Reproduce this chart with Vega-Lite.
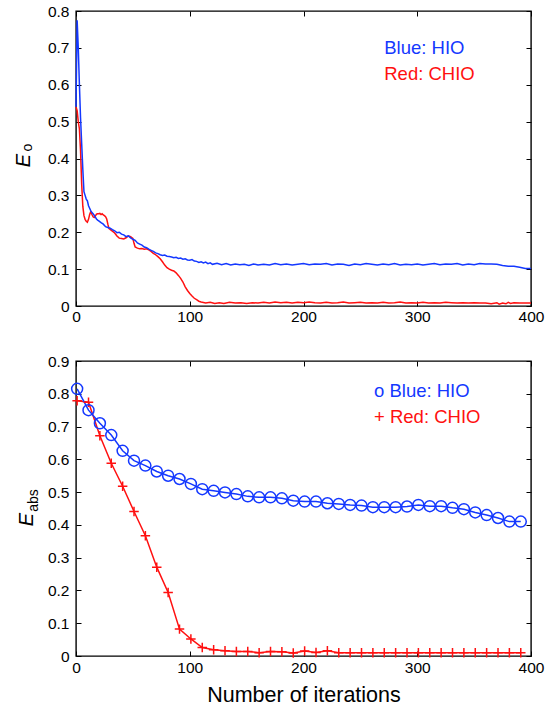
{
  "$schema": "https://vega.github.io/schema/vega-lite/v6.json",
  "padding": {"left": 12, "top": 3, "right": 5, "bottom": 2},
  "background": "white",
  "config": {
    "font": "Liberation Sans",
    "view": {"stroke": "black", "strokeWidth": 1.4},
    "axis": {
      "grid": false, "domain": false, "tickColor": "black", "tickSize": -5, "tickWidth": 1, "labelFlush": false,
      "labelColor": "black", "labelFontSize": 15.5, "labelFont": "Liberation Sans",
      "titleColor": "black", "titleFontWeight": "normal", "titleFont": "Liberation Sans"
    }
  },
  "datasets": {
    "top": [
      {"s":"CHIO","i":0,"e":0.54},{"s":"CHIO","i":1,"e":0.53},{"s":"CHIO","i":2,"e":0.50},{"s":"CHIO","i":3,"e":0.48},{"s":"CHIO","i":4,"e":0.42},{"s":"CHIO","i":5,"e":0.33},{"s":"CHIO","i":6,"e":0.27},{"s":"CHIO","i":7,"e":0.245},{"s":"CHIO","i":8,"e":0.235},{"s":"CHIO","i":9,"e":0.23},{"s":"CHIO","i":10,"e":0.227},{"s":"CHIO","i":11,"e":0.235},{"s":"CHIO","i":12,"e":0.248},{"s":"CHIO","i":13,"e":0.256},{"s":"CHIO","i":14,"e":0.248},{"s":"CHIO","i":15,"e":0.242},{"s":"CHIO","i":16,"e":0.24},{"s":"CHIO","i":17,"e":0.244},{"s":"CHIO","i":18,"e":0.249},{"s":"CHIO","i":19,"e":0.25},{"s":"CHIO","i":20,"e":0.25},{"s":"CHIO","i":21,"e":0.251},{"s":"CHIO","i":22,"e":0.248},{"s":"CHIO","i":23,"e":0.25},{"s":"CHIO","i":24,"e":0.247},{"s":"CHIO","i":25,"e":0.245},{"s":"CHIO","i":26,"e":0.242},{"s":"CHIO","i":27,"e":0.236},{"s":"CHIO","i":28,"e":0.222},{"s":"CHIO","i":29,"e":0.21},{"s":"CHIO","i":30,"e":0.208},{"s":"CHIO","i":32,"e":0.203},{"s":"CHIO","i":34,"e":0.198},{"s":"CHIO","i":36,"e":0.19},{"s":"CHIO","i":38,"e":0.184},{"s":"CHIO","i":40,"e":0.183},{"s":"CHIO","i":42,"e":0.182},{"s":"CHIO","i":44,"e":0.185},{"s":"CHIO","i":46,"e":0.19},{"s":"CHIO","i":48,"e":0.188},{"s":"CHIO","i":50,"e":0.183},{"s":"CHIO","i":51,"e":0.17},{"s":"CHIO","i":52,"e":0.16},{"s":"CHIO","i":54,"e":0.157},{"s":"CHIO","i":56,"e":0.155},{"s":"CHIO","i":58,"e":0.156},{"s":"CHIO","i":60,"e":0.154},{"s":"CHIO","i":62,"e":0.155},{"s":"CHIO","i":64,"e":0.152},{"s":"CHIO","i":66,"e":0.148},{"s":"CHIO","i":68,"e":0.143},{"s":"CHIO","i":70,"e":0.139},{"s":"CHIO","i":72,"e":0.134},{"s":"CHIO","i":74,"e":0.128},{"s":"CHIO","i":76,"e":0.12},{"s":"CHIO","i":78,"e":0.111},{"s":"CHIO","i":80,"e":0.104},{"s":"CHIO","i":82,"e":0.1},{"s":"CHIO","i":84,"e":0.097},{"s":"CHIO","i":86,"e":0.095},{"s":"CHIO","i":88,"e":0.09},{"s":"CHIO","i":90,"e":0.083},{"s":"CHIO","i":92,"e":0.075},{"s":"CHIO","i":94,"e":0.065},{"s":"CHIO","i":96,"e":0.052},{"s":"CHIO","i":98,"e":0.042},{"s":"CHIO","i":100,"e":0.034},{"s":"CHIO","i":102,"e":0.027},{"s":"CHIO","i":104,"e":0.021},{"s":"CHIO","i":106,"e":0.017},{"s":"CHIO","i":108,"e":0.013},{"s":"CHIO","i":110,"e":0.011},{"s":"CHIO","i":114,"e":0.008},{"s":"CHIO","i":118,"e":0.01},{"s":"CHIO","i":122,"e":0.007},{"s":"CHIO","i":126,"e":0.009},{"s":"CHIO","i":130,"e":0.007},{"s":"CHIO","i":135,"e":0.01},{"s":"CHIO","i":140,"e":0.008},{"s":"CHIO","i":145,"e":0.009},{"s":"CHIO","i":150,"e":0.007},{"s":"CHIO","i":155,"e":0.009},{"s":"CHIO","i":160,"e":0.008},{"s":"CHIO","i":165,"e":0.01},{"s":"CHIO","i":170,"e":0.008},{"s":"CHIO","i":175,"e":0.011},{"s":"CHIO","i":180,"e":0.009},{"s":"CHIO","i":185,"e":0.01},{"s":"CHIO","i":190,"e":0.008},{"s":"CHIO","i":195,"e":0.01},{"s":"CHIO","i":200,"e":0.009},{"s":"CHIO","i":205,"e":0.011},{"s":"CHIO","i":210,"e":0.009},{"s":"CHIO","i":215,"e":0.008},{"s":"CHIO","i":220,"e":0.01},{"s":"CHIO","i":225,"e":0.008},{"s":"CHIO","i":230,"e":0.009},{"s":"CHIO","i":235,"e":0.011},{"s":"CHIO","i":240,"e":0.008},{"s":"CHIO","i":245,"e":0.009},{"s":"CHIO","i":250,"e":0.01},{"s":"CHIO","i":255,"e":0.008},{"s":"CHIO","i":260,"e":0.009},{"s":"CHIO","i":265,"e":0.008},{"s":"CHIO","i":270,"e":0.01},{"s":"CHIO","i":275,"e":0.008},{"s":"CHIO","i":280,"e":0.009},{"s":"CHIO","i":285,"e":0.011},{"s":"CHIO","i":290,"e":0.008},{"s":"CHIO","i":295,"e":0.009},{"s":"CHIO","i":300,"e":0.008},{"s":"CHIO","i":305,"e":0.01},{"s":"CHIO","i":310,"e":0.008},{"s":"CHIO","i":315,"e":0.009},{"s":"CHIO","i":320,"e":0.008},{"s":"CHIO","i":325,"e":0.01},{"s":"CHIO","i":330,"e":0.009},{"s":"CHIO","i":335,"e":0.008},{"s":"CHIO","i":340,"e":0.009},{"s":"CHIO","i":345,"e":0.008},{"s":"CHIO","i":350,"e":0.009},{"s":"CHIO","i":355,"e":0.008},{"s":"CHIO","i":360,"e":0.008},{"s":"CHIO","i":365,"e":0.006},{"s":"CHIO","i":370,"e":0.009},{"s":"CHIO","i":372,"e":0.005},{"s":"CHIO","i":375,"e":0.008},{"s":"CHIO","i":378,"e":0.006},{"s":"CHIO","i":380,"e":0.01},{"s":"CHIO","i":382,"e":0.007},{"s":"CHIO","i":385,"e":0.009},{"s":"CHIO","i":390,"e":0.008},{"s":"CHIO","i":395,"e":0.008},{"s":"CHIO","i":400,"e":0.008},
      {"s":"HIO","i":0,"e":0.54},{"s":"HIO","i":1,"e":0.775},{"s":"HIO","i":2,"e":0.70},{"s":"HIO","i":3,"e":0.60},{"s":"HIO","i":4,"e":0.51},{"s":"HIO","i":5,"e":0.44},{"s":"HIO","i":6,"e":0.37},{"s":"HIO","i":7,"e":0.31},{"s":"HIO","i":8,"e":0.30},{"s":"HIO","i":9,"e":0.29},{"s":"HIO","i":10,"e":0.285},{"s":"HIO","i":11,"e":0.272},{"s":"HIO","i":12,"e":0.265},{"s":"HIO","i":13,"e":0.258},{"s":"HIO","i":14,"e":0.254},{"s":"HIO","i":15,"e":0.25},{"s":"HIO","i":16,"e":0.246},{"s":"HIO","i":17,"e":0.241},{"s":"HIO","i":18,"e":0.236},{"s":"HIO","i":19,"e":0.233},{"s":"HIO","i":20,"e":0.231},{"s":"HIO","i":22,"e":0.226},{"s":"HIO","i":24,"e":0.222},{"s":"HIO","i":26,"e":0.215},{"s":"HIO","i":28,"e":0.213},{"s":"HIO","i":30,"e":0.211},{"s":"HIO","i":32,"e":0.207},{"s":"HIO","i":34,"e":0.204},{"s":"HIO","i":36,"e":0.199},{"s":"HIO","i":38,"e":0.2},{"s":"HIO","i":40,"e":0.195},{"s":"HIO","i":42,"e":0.193},{"s":"HIO","i":44,"e":0.188},{"s":"HIO","i":46,"e":0.19},{"s":"HIO","i":48,"e":0.185},{"s":"HIO","i":50,"e":0.181},{"s":"HIO","i":52,"e":0.178},{"s":"HIO","i":54,"e":0.171},{"s":"HIO","i":56,"e":0.168},{"s":"HIO","i":58,"e":0.165},{"s":"HIO","i":60,"e":0.16},{"s":"HIO","i":62,"e":0.158},{"s":"HIO","i":64,"e":0.154},{"s":"HIO","i":66,"e":0.151},{"s":"HIO","i":68,"e":0.148},{"s":"HIO","i":70,"e":0.144},{"s":"HIO","i":72,"e":0.142},{"s":"HIO","i":74,"e":0.139},{"s":"HIO","i":76,"e":0.137},{"s":"HIO","i":78,"e":0.138},{"s":"HIO","i":80,"e":0.135},{"s":"HIO","i":82,"e":0.134},{"s":"HIO","i":84,"e":0.133},{"s":"HIO","i":86,"e":0.131},{"s":"HIO","i":88,"e":0.132},{"s":"HIO","i":90,"e":0.129},{"s":"HIO","i":92,"e":0.13},{"s":"HIO","i":94,"e":0.127},{"s":"HIO","i":96,"e":0.128},{"s":"HIO","i":98,"e":0.125},{"s":"HIO","i":100,"e":0.124},{"s":"HIO","i":102,"e":0.126},{"s":"HIO","i":104,"e":0.122},{"s":"HIO","i":106,"e":0.121},{"s":"HIO","i":108,"e":0.118},{"s":"HIO","i":110,"e":0.12},{"s":"HIO","i":112,"e":0.117},{"s":"HIO","i":114,"e":0.119},{"s":"HIO","i":116,"e":0.115},{"s":"HIO","i":118,"e":0.117},{"s":"HIO","i":120,"e":0.113},{"s":"HIO","i":124,"e":0.116},{"s":"HIO","i":128,"e":0.112},{"s":"HIO","i":132,"e":0.115},{"s":"HIO","i":136,"e":0.111},{"s":"HIO","i":140,"e":0.114},{"s":"HIO","i":144,"e":0.112},{"s":"HIO","i":148,"e":0.113},{"s":"HIO","i":152,"e":0.11},{"s":"HIO","i":156,"e":0.114},{"s":"HIO","i":160,"e":0.111},{"s":"HIO","i":165,"e":0.113},{"s":"HIO","i":170,"e":0.111},{"s":"HIO","i":175,"e":0.115},{"s":"HIO","i":180,"e":0.112},{"s":"HIO","i":185,"e":0.114},{"s":"HIO","i":190,"e":0.111},{"s":"HIO","i":195,"e":0.113},{"s":"HIO","i":200,"e":0.115},{"s":"HIO","i":205,"e":0.112},{"s":"HIO","i":210,"e":0.114},{"s":"HIO","i":215,"e":0.113},{"s":"HIO","i":220,"e":0.115},{"s":"HIO","i":225,"e":0.111},{"s":"HIO","i":230,"e":0.114},{"s":"HIO","i":235,"e":0.113},{"s":"HIO","i":240,"e":0.11},{"s":"HIO","i":245,"e":0.114},{"s":"HIO","i":250,"e":0.112},{"s":"HIO","i":255,"e":0.115},{"s":"HIO","i":260,"e":0.113},{"s":"HIO","i":265,"e":0.111},{"s":"HIO","i":270,"e":0.114},{"s":"HIO","i":275,"e":0.112},{"s":"HIO","i":280,"e":0.115},{"s":"HIO","i":285,"e":0.111},{"s":"HIO","i":290,"e":0.113},{"s":"HIO","i":295,"e":0.112},{"s":"HIO","i":300,"e":0.114},{"s":"HIO","i":305,"e":0.111},{"s":"HIO","i":310,"e":0.113},{"s":"HIO","i":315,"e":0.115},{"s":"HIO","i":320,"e":0.112},{"s":"HIO","i":325,"e":0.114},{"s":"HIO","i":330,"e":0.113},{"s":"HIO","i":335,"e":0.115},{"s":"HIO","i":340,"e":0.111},{"s":"HIO","i":345,"e":0.114},{"s":"HIO","i":350,"e":0.112},{"s":"HIO","i":355,"e":0.115},{"s":"HIO","i":360,"e":0.114},{"s":"HIO","i":365,"e":0.114},{"s":"HIO","i":370,"e":0.113},{"s":"HIO","i":375,"e":0.11},{"s":"HIO","i":380,"e":0.108},{"s":"HIO","i":385,"e":0.108},{"s":"HIO","i":390,"e":0.105},{"s":"HIO","i":395,"e":0.102},{"s":"HIO","i":400,"e":0.102}
    ],
    "topLegend": [
      {"s":"HIO","i":271,"e":0.683,"label":"Blue: HIO"},
      {"s":"CHIO","i":271,"e":0.614,"label":"Red: CHIO"}
    ],
    "bottom": [
      {"s":"CHIO","i":1,"e":0.779},{"s":"CHIO","i":11,"e":0.774},{"s":"CHIO","i":21,"e":0.672},{"s":"CHIO","i":31,"e":0.588},{"s":"CHIO","i":41,"e":0.518},{"s":"CHIO","i":51,"e":0.441},{"s":"CHIO","i":61,"e":0.367},{"s":"CHIO","i":71,"e":0.271},{"s":"CHIO","i":81,"e":0.194},{"s":"CHIO","i":91,"e":0.082},{"s":"CHIO","i":101,"e":0.052},{"s":"CHIO","i":111,"e":0.026},{"s":"CHIO","i":121,"e":0.019},{"s":"CHIO","i":131,"e":0.016},{"s":"CHIO","i":141,"e":0.014},{"s":"CHIO","i":151,"e":0.014},{"s":"CHIO","i":161,"e":0.01},{"s":"CHIO","i":171,"e":0.014},{"s":"CHIO","i":181,"e":0.013},{"s":"CHIO","i":191,"e":0.009},{"s":"CHIO","i":201,"e":0.015},{"s":"CHIO","i":211,"e":0.011},{"s":"CHIO","i":221,"e":0.016},{"s":"CHIO","i":231,"e":0.01},{"s":"CHIO","i":241,"e":0.01},{"s":"CHIO","i":251,"e":0.01},{"s":"CHIO","i":261,"e":0.01},{"s":"CHIO","i":271,"e":0.01},{"s":"CHIO","i":281,"e":0.01},{"s":"CHIO","i":291,"e":0.01},{"s":"CHIO","i":301,"e":0.01},{"s":"CHIO","i":311,"e":0.01},{"s":"CHIO","i":321,"e":0.01},{"s":"CHIO","i":331,"e":0.01},{"s":"CHIO","i":341,"e":0.01},{"s":"CHIO","i":351,"e":0.01},{"s":"CHIO","i":361,"e":0.01},{"s":"CHIO","i":371,"e":0.01},{"s":"CHIO","i":381,"e":0.01},{"s":"CHIO","i":391,"e":0.01},
      {"s":"HIO","i":1,"e":0.815},{"s":"HIO","i":11,"e":0.75},{"s":"HIO","i":21,"e":0.71},{"s":"HIO","i":31,"e":0.674},{"s":"HIO","i":41,"e":0.626},{"s":"HIO","i":51,"e":0.596},{"s":"HIO","i":61,"e":0.581},{"s":"HIO","i":71,"e":0.563},{"s":"HIO","i":81,"e":0.55},{"s":"HIO","i":91,"e":0.54},{"s":"HIO","i":101,"e":0.525},{"s":"HIO","i":111,"e":0.509},{"s":"HIO","i":121,"e":0.504},{"s":"HIO","i":131,"e":0.499},{"s":"HIO","i":141,"e":0.494},{"s":"HIO","i":151,"e":0.487},{"s":"HIO","i":161,"e":0.484},{"s":"HIO","i":171,"e":0.484},{"s":"HIO","i":181,"e":0.481},{"s":"HIO","i":191,"e":0.474},{"s":"HIO","i":201,"e":0.471},{"s":"HIO","i":211,"e":0.471},{"s":"HIO","i":221,"e":0.466},{"s":"HIO","i":231,"e":0.464},{"s":"HIO","i":241,"e":0.461},{"s":"HIO","i":251,"e":0.459},{"s":"HIO","i":261,"e":0.454},{"s":"HIO","i":271,"e":0.454},{"s":"HIO","i":281,"e":0.454},{"s":"HIO","i":291,"e":0.456},{"s":"HIO","i":301,"e":0.461},{"s":"HIO","i":311,"e":0.457},{"s":"HIO","i":321,"e":0.457},{"s":"HIO","i":331,"e":0.452},{"s":"HIO","i":341,"e":0.448},{"s":"HIO","i":351,"e":0.438},{"s":"HIO","i":361,"e":0.43},{"s":"HIO","i":371,"e":0.421},{"s":"HIO","i":381,"e":0.41},{"s":"HIO","i":391,"e":0.41}
    ],
    "bottomLegend": [
      {"s":"HIO","i":262,"e":0.789,"label":"o Blue: HIO"},
      {"s":"CHIO","i":262,"e":0.711,"label":"+ Red: CHIO"}
    ]
  },
  "bounds": "flush",
  "spacing": 55,
  "vconcat": [
    {
      "width": 455, "height": 295,
      "layer": [
        {
          "data": {"name": "top"},
          "mark": {"type": "line", "strokeWidth": 1.5},
          "encoding": {
            "x": {"field": "i", "type": "quantitative", "scale": {"domain": [0, 400], "nice": false},
                  "axis": {"values": [0, 100, 200, 300, 400], "title": null, "labelPadding": 8}},
            "y": {"field": "e", "type": "quantitative", "scale": {"domain": [0, 0.8], "nice": false},
                  "axis": {"values": [0, 0.1, 0.2, 0.3, 0.4, 0.5, 0.6, 0.7, 0.8], "format": "~g", "labelPadding": 12,
                           "title": "E", "titleFontStyle": "italic", "titleFontSize": 20, "titleAngle": -90,
                           "titleX": -47, "titleY": 149, "titleBaseline": "alphabetic", "titleAlign": "center"}},
            "color": {"field": "s", "type": "nominal", "scale": {"domain": ["HIO", "CHIO"], "range": ["#1438ff", "#ff1010"]}, "legend": null}
          }
        },
        {
          "data": {"name": "topLegend"},
          "mark": {"type": "text", "align": "left", "baseline": "alphabetic", "fontSize": 18.5},
          "encoding": {
            "x": {"field": "i", "type": "quantitative", "scale": {"domain": [0, 400], "nice": false},
                  "axis": {"orient": "top", "values": [0, 100, 200, 300, 400], "labels": false, "title": null}},
            "y": {"field": "e", "type": "quantitative", "scale": {"domain": [0, 0.8], "nice": false},
                  "axis": {"orient": "right", "values": [0, 0.1, 0.2, 0.3, 0.4, 0.5, 0.6, 0.7, 0.8], "labels": false,
                           "title": "o", "titleFontSize": 14, "titleAngle": -90, "titleX": -500, "titleY": 136,
                           "titleBaseline": "alphabetic", "titleAlign": "center"}},
            "text": {"field": "label"},
            "color": {"field": "s", "type": "nominal", "legend": null}
          }
        }
      ],
      "resolve": {"axis": {"x": "independent", "y": "independent"}}
    },
    {
      "width": 455, "height": 295,
      "layer": [
        {
          "data": {"name": "bottom"},
          "mark": {"type": "line", "strokeWidth": 1.5},
          "encoding": {
            "x": {"field": "i", "type": "quantitative", "scale": {"domain": [0, 400], "nice": false},
                  "axis": {"values": [0, 100, 200, 300, 400], "labelPadding": 9,
                           "title": "Number of iterations", "titleFontSize": 21.5, "titleY": 45, "titleBaseline": "alphabetic"}},
            "y": {"field": "e", "type": "quantitative", "scale": {"domain": [0, 0.9], "nice": false},
                  "axis": {"values": [0, 0.1, 0.2, 0.3, 0.4, 0.5, 0.6, 0.7, 0.8, 0.9], "format": "~g", "labelPadding": 12,
                           "title": "E", "titleFontStyle": "italic", "titleFontSize": 20, "titleAngle": -90,
                           "titleX": -44, "titleY": 158, "titleBaseline": "alphabetic", "titleAlign": "center"}},
            "color": {"field": "s", "type": "nominal", "scale": {"domain": ["HIO", "CHIO"], "range": ["#1438ff", "#ff1010"]}, "legend": null}
          }
        },
        {
          "data": {"name": "bottom"},
          "mark": {"type": "point", "filled": false, "strokeWidth": 1.5, "opacity": 1},
          "encoding": {
            "x": {"field": "i", "type": "quantitative", "axis": null},
            "y": {"field": "e", "type": "quantitative", "axis": null},
            "color": {"field": "s", "type": "nominal", "legend": null},
            "shape": {"field": "s", "type": "nominal", "scale": {"domain": ["HIO", "CHIO"], "range": ["circle", "M-1,0H1M0,-1V1"]}, "legend": null},
            "size": {"field": "s", "type": "nominal", "scale": {"domain": ["HIO", "CHIO"], "range": [121, 90]}, "legend": null}
          }
        },
        {
          "data": {"name": "bottomLegend"},
          "mark": {"type": "text", "align": "left", "baseline": "alphabetic", "fontSize": 18.5},
          "encoding": {
            "x": {"field": "i", "type": "quantitative", "scale": {"domain": [0, 400], "nice": false},
                  "axis": {"orient": "top", "values": [0, 100, 200, 300, 400], "labels": false, "title": null}},
            "y": {"field": "e", "type": "quantitative", "scale": {"domain": [0, 0.9], "nice": false},
                  "axis": {"orient": "right", "values": [0, 0.1, 0.2, 0.3, 0.4, 0.5, 0.6, 0.7, 0.8, 0.9], "labels": false,
                           "title": "abs", "titleFontSize": 14, "titleAngle": -90, "titleX": -494, "titleY": 139,
                           "titleBaseline": "alphabetic", "titleAlign": "center"}},
            "text": {"field": "label"},
            "color": {"field": "s", "type": "nominal", "legend": null}
          }
        }
      ],
      "resolve": {"axis": {"x": "independent", "y": "independent"}}
    }
  ]
}
